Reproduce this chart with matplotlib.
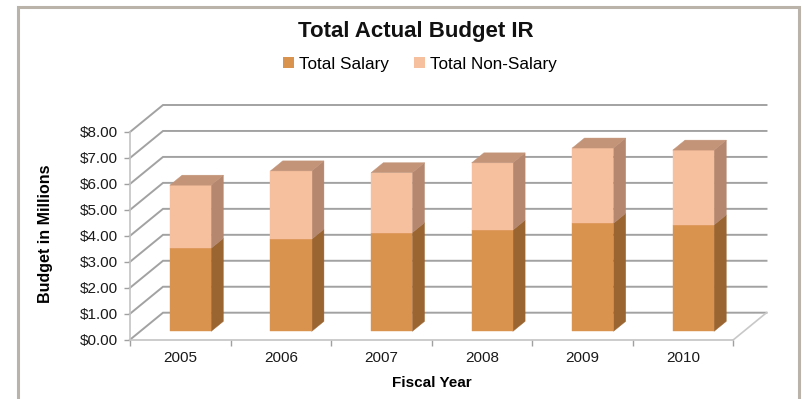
import matplotlib
matplotlib.use("Agg")
import matplotlib.pyplot as plt
from matplotlib.patches import Polygon, Rectangle, Patch
from matplotlib.ticker import FixedLocator, NullFormatter, FixedFormatter

plt.rcParams['font.family'] = ['Liberation Sans', 'DejaVu Sans']

# Budget data (millions of dollars)
years = ["2005", "2006", "2007", "2008", "2009", "2010"]
salary = [3.20, 3.55, 3.80, 3.90, 4.16, 4.10]
non_salary = [2.43, 2.63, 2.31, 2.59, 2.90, 2.88]
y_ticks = [0, 1, 2, 3, 4, 5, 6, 7, 8]

# Colours
SAL_FRONT, SAL_SIDE = "#DA924F", "#9A6531"
NON_FRONT, NON_SIDE = "#F6BF9E", "#B4876E"
TOP = "#C39478"
GRID = "#a2a2a2"

W, H = 803, 399
fig = plt.figure(figsize=(W / 100, H / 100), dpi=100)

# Front plane of the 3-D box, in pixels
fx0, fx1 = 130.0, 733.5
fy0, fy8 = 339.7, 132.0
ax = fig.add_axes([fx0 / W, (H - fy0) / H, (fx1 - fx0) / W, (fy0 - fy8) / H])
ax.set_xlim(-0.5, len(years) - 0.5)
ax.set_ylim(0, 8)
ax.patch.set_visible(False)

# Oblique depth offset for z in [0, 1]
px_per_x = (fx1 - fx0) / len(years)
px_per_v = (fy0 - fy8) / 8
DX = 33.0 / px_per_x
DY = 27.0 / px_per_v


def P(x, v, z):
    return (x + z * DX, v + z * DY)


xl, xr = -0.5, len(years) - 0.5

# Side wall and back wall gridlines
for v in y_ticks:
    a, b, c = P(xl, v, 0), P(xl, v, 1), P(xr, v, 1)
    ax.plot([a[0], b[0], c[0]], [a[1], b[1], c[1]], color=GRID, lw=1.4,
            clip_on=False, zorder=1, solid_joinstyle='miter')
# Right edge of the floor
a, b = P(xr, 0, 0), P(xr, 0, 1)
ax.plot([a[0], b[0]], [a[1], b[1]], color="#c8c8c8", lw=1.2, clip_on=False, zorder=1)

# Bars
bw = 0.41
z0, z1 = 0.31, 0.68


def face(pts, color):
    ax.add_patch(Polygon(pts, closed=True, facecolor=color, edgecolor=color,
                         lw=0.3, clip_on=False, zorder=3))


for i in range(len(years)):
    x0, x1 = i - bw / 2, i + bw / 2
    segs = [(0, salary[i], SAL_FRONT, SAL_SIDE),
            (salary[i], salary[i] + non_salary[i], NON_FRONT, NON_SIDE)]
    for v0, v1, cf, cs in segs:
        # right side
        face([P(x1, v0, z0), P(x1, v0, z1), P(x1, v1, z1), P(x1, v1, z0)], cs)
        # front
        face([P(x0, v0, z0), P(x1, v0, z0), P(x1, v1, z0), P(x0, v1, z0)], cf)
    vt = salary[i] + non_salary[i]
    face([P(x0, vt, z0), P(x1, vt, z0), P(x1, vt, z1), P(x0, vt, z1)], TOP)

# Axes styling
for s in ["top", "right"]:
    ax.spines[s].set_visible(False)
for s in ["left", "bottom"]:
    ax.spines[s].set_color("#c4c4c4")
    ax.spines[s].set_linewidth(1.2)
    ax.spines[s].set_zorder(2)

ax.yaxis.set_major_locator(FixedLocator(y_ticks))
ax.yaxis.set_major_formatter(FixedFormatter([f"${v:.2f}" for v in y_ticks]))
ax.tick_params(axis="y", which="major", length=4, width=1, color="#a0a0a0",
               pad=5, labelsize=11, labelcolor="#1a1a1a")

ax.xaxis.set_major_locator(FixedLocator([k - 0.5 for k in range(len(years) + 1)]))
ax.xaxis.set_major_formatter(NullFormatter())
ax.xaxis.set_minor_locator(FixedLocator(list(range(len(years)))))
ax.xaxis.set_minor_formatter(FixedFormatter(years))
ax.tick_params(axis="x", which="major", length=4, width=1, color="#a0a0a0")
ax.tick_params(axis="x", which="minor", length=0, pad=8, labelsize=11,
               labelcolor="#1a1a1a")

ax.set_xlabel("Fiscal Year", fontsize=11, fontweight="bold")
ax.xaxis.set_label_coords(0.5, (fy0 - 383) / (fy0 - fy8))
ax.xaxis.label.set_va("center")
ax.set_ylabel("Budget in Millions", fontsize=11.5, fontweight="bold")
ax.yaxis.set_label_coords((45 - fx0) / (fx1 - fx0), (fy0 - 234) / (fy0 - fy8))
ax.yaxis.label.set_va("center")

# Title and legend
fig.text(416 / W, 1 - 31 / H, "Total Actual Budget IR", ha="center", va="center",
         fontsize=16, fontweight="bold", color="#111111")
handles = [Patch(facecolor=SAL_FRONT, label="Total Salary"),
           Patch(facecolor=NON_FRONT, label="Total Non-Salary")]
fig.legend(handles=handles, loc="center", bbox_to_anchor=(420 / W, 1 - 64 / H),
           ncol=2, frameon=False, fontsize=12.3, handlelength=0.6,
           handleheight=0.6, handletextpad=0.3, columnspacing=1.5)

# Chart border
fig.patches.append(Rectangle((18 / W, -0.05), (799 - 18) / W, 1.05 - 6.5 / H,
                             transform=fig.transFigure, fill=False,
                             edgecolor="#BAB3A9", lw=2.2, zorder=0))

fig.savefig("out.png", dpi=100)
